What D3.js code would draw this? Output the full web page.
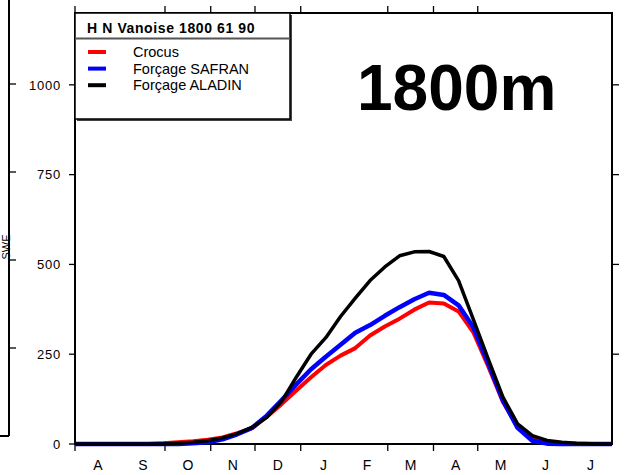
<!DOCTYPE html>
<html>
<head>
<meta charset="utf-8">
<script src="https://cdn.jsdelivr.net/npm/d3@7"></script>
<style>
  body { margin: 0; background: #fff; }
  svg { display: block; font-family: "Liberation Sans", Arial, sans-serif; }
</style>
</head>
<body>
<svg></svg>
<script>
const width = 625;
const height = 475;

// days since 1 August
const days = [0, 10, 20, 30, 40, 50, 60, 70, 80, 90, 100, 110, 120, 130, 140, 150, 160, 170, 180,
  190, 200, 210, 220, 230, 240, 250, 260, 270, 280, 290, 300, 310, 320, 330, 340, 350, 360, 364];

const crocus = [0, 0, 0, 0, 0, 0, 2, 5, 8, 12, 18, 30, 44, 76, 111, 149, 186, 220, 246,
  267, 302, 327, 349, 374, 394, 391, 369, 311, 217, 118, 48, 14, 4, 1, 0, 0, 0, 0];
const safran = [0, 0, 0, 0, 0, 0, 0, 0, 2, 5, 13, 27, 45, 79, 122, 166, 208, 243, 276,
  310, 331, 357, 381, 403, 421, 415, 386, 325, 226, 122, 45, 9, 1, 0, 0, 0, 0, 0];
const aladin = [0, 0, 0, 0, 0, 0, 0, 2, 5, 9, 17, 29, 46, 74, 118, 186, 250, 296, 355,
  406, 455, 493, 524, 535, 536, 522, 455, 347, 238, 131, 56, 23, 10, 5, 2, 1, 0, 0];

const monthLabels = ["A", "S", "O", "N", "D", "J", "F", "M", "A", "M", "J", "J"];
const tickMonths = [0, 2, 3, 4, 5, 7, 8, 9]; // months after August that get a tick
const yTicks = [0, 250, 500, 750, 1000];

const seriesNames = ["Crocus", "Forçage SAFRAN", "Forçage ALADIN"];
const seriesColors = ["#ff0000", "#0000ff", "#000000"];
const seriesWidths = [4, 4.5, 3.5];
const seriesValues = [crocus, safran, aladin];

const legendTitle = "H N Vanoise 1800 61 90";
const bigLabel = "1800m";

const start = new Date(2001, 7, 1);
const end = new Date(2002, 6, 31);
const dayToDate = d => d3.timeDay.offset(start, d);

const margin = { left: 75, right: 612, top: 13, bottom: 444 };

const svg = d3.select("svg").attr("width", width).attr("height", height);

const x = d3.scaleTime().domain([start, end]).range([margin.left, margin.right]);
const y = d3.scaleLinear().domain([0, 1200]).range([margin.bottom, margin.top]);

// remnant of neighbouring panel on the left
const yLeft = d3.scaleLinear().domain([0, 1000]).range([436, 84]);
svg.append("line").attr("x1", 9).attr("x2", 9).attr("y1", 0).attr("y2", 436)
  .attr("stroke", "#000").attr("stroke-width", 2);
svg.append("line").attr("x1", 0).attr("x2", 9).attr("y1", 436).attr("y2", 436)
  .attr("stroke", "#000").attr("stroke-width", 2);
svg.selectAll(".lt").data(yTicks.slice(1)).enter().append("line")
  .attr("x1", 9).attr("x2", 16)
  .attr("y1", d => yLeft(d)).attr("y2", d => yLeft(d))
  .attr("stroke", "#000").attr("stroke-width", 1.3);

svg.append("text")
  .attr("transform", "translate(10,247) rotate(-90)")
  .attr("text-anchor", "middle")
  .style("font-size", "11px")
  .text("SWE");

// frame
svg.append("rect")
  .attr("x", margin.left).attr("y", margin.top)
  .attr("width", margin.right - margin.left).attr("height", margin.bottom - margin.top)
  .attr("fill", "none").attr("stroke", "#000").attr("stroke-width", 2);

// ticks
const tickDates = tickMonths.map(m => d3.timeMonth.offset(start, m));
svg.selectAll(".bt").data(tickDates).enter().append("line")
  .attr("x1", d => x(d)).attr("x2", d => x(d))
  .attr("y1", margin.bottom).attr("y2", margin.bottom + 7)
  .attr("stroke", "#000").attr("stroke-width", 1.3);
svg.selectAll(".tt").data(tickDates).enter().append("line")
  .attr("x1", d => x(d)).attr("x2", d => x(d))
  .attr("y1", margin.top).attr("y2", margin.top - 7)
  .attr("stroke", "#000").attr("stroke-width", 1.3);

svg.selectAll(".ml").data(monthLabels).enter().append("text")
  .attr("x", (d, i) => {
    const a = d3.timeMonth.offset(start, i), b = d3.timeMonth.offset(start, i + 1);
    return (x(a) + x(b)) / 2;
  })
  .attr("y", 470)
  .attr("text-anchor", "middle")
  .style("font-size", "14px")
  .text(d => d);

svg.selectAll(".ly").data(yTicks).enter().append("line")
  .attr("x1", margin.left - 6).attr("x2", margin.left)
  .attr("y1", d => y(d)).attr("y2", d => y(d))
  .attr("stroke", "#000").attr("stroke-width", 1.3);
svg.selectAll(".ry").data(yTicks.slice(1)).enter().append("line")
  .attr("x1", margin.right).attr("x2", margin.right + 7)
  .attr("y1", d => y(d)).attr("y2", d => y(d))
  .attr("stroke", "#000").attr("stroke-width", 1.3);
svg.selectAll(".yl").data(yTicks).enter().append("text")
  .attr("x", 61).attr("y", d => y(d)).attr("dy", "0.36em")
  .attr("text-anchor", "end")
  .style("font-size", "13px")
  .style("letter-spacing", "0.8px")
  .text(d => d);

// series
const line = d3.line()
  .x((d, i) => x(dayToDate(days[i])))
  .y(d => y(d));

seriesValues.forEach((vals, k) => {
  svg.append("path")
    .datum(vals)
    .attr("d", line)
    .attr("fill", "none")
    .attr("stroke", seriesColors[k])
    .attr("stroke-width", seriesWidths[k])
    .attr("stroke-linejoin", "round");
});

// big label
svg.append("text")
  .attr("x", 357).attr("y", 110)
  .style("font-size", "64px").style("font-weight", "bold")
  .text(bigLabel);

// legend
const lg = svg.append("g");
lg.append("rect").attr("x", 77).attr("y", 15).attr("width", 215).attr("height", 106)
  .attr("fill", "#444");
lg.append("rect").attr("x", 75).attr("y", 13).attr("width", 215).attr("height", 106)
  .attr("fill", "#fff").attr("stroke", "#000").attr("stroke-width", 1.5);
lg.append("line").attr("x1", 75).attr("x2", 290).attr("y1", 38.5).attr("y2", 38.5)
  .attr("stroke", "#555").attr("stroke-width", 1.8);
lg.append("text").attr("x", 87).attr("y", 33)
  .style("font-size", "14px").style("font-weight", "bold")
  .style("letter-spacing", "0.6px")
  .text(legendTitle);

seriesNames.forEach((name, k) => {
  const yy = 52 + k * 16.6;
  lg.append("line").attr("x1", 88).attr("x2", 106).attr("y1", yy).attr("y2", yy)
    .attr("stroke", seriesColors[k]).attr("stroke-width", 4);
  lg.append("text").attr("x", 133).attr("y", yy).attr("dy", "0.35em")
    .style("font-size", "14.5px")
    .text(name);
});
</script>
</body>
</html>
